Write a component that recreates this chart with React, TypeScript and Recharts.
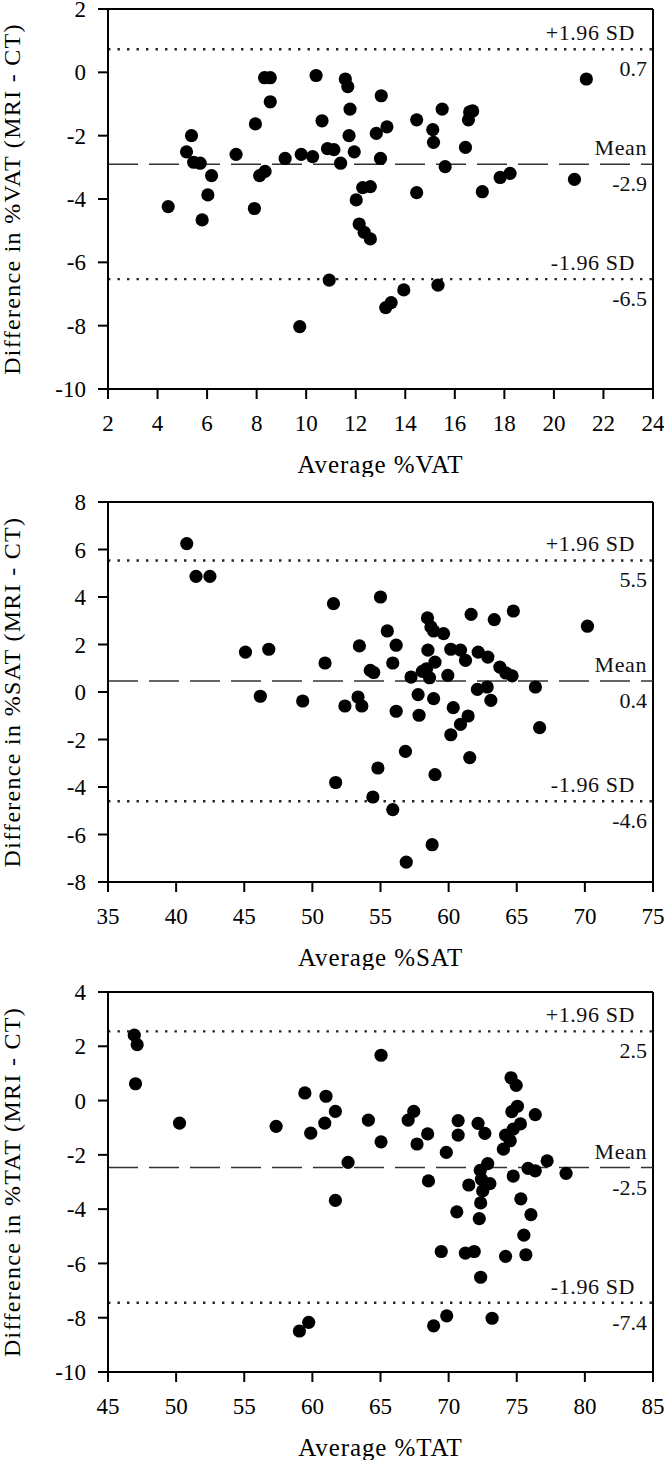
import { ScatterChart, Scatter, XAxis, YAxis, ReferenceLine } from "recharts";

const FONT = "'Liberation Serif', 'Times New Roman', Times, serif";

// Panel 1: visceral adipose tissue
const vatAvg = [
  4.43, 5.17, 5.37, 5.46, 5.72, 6.18, 6.03, 5.8, 7.17, 7.95, 8.12, 8.34, 7.91, 8.32, 8.55,
  8.55, 9.15, 9.8, 10.26, 10.4, 10.64, 10.86, 11.12, 11.39, 11.58, 11.68, 11.77, 11.73,
  11.94, 12.02, 12.14, 12.34, 12.59, 12.28, 12.59, 12.83, 13.03, 13.0, 13.26, 13.21, 13.43,
  13.94, 10.93, 9.74, 14.46, 14.46, 15.11, 15.14, 15.49, 15.61, 15.32, 16.43, 16.55, 16.6,
  16.72, 17.11, 17.83, 18.23, 20.83, 21.31,
];
const vatDiff = [
  -4.24, -2.51, -2.0, -2.84, -2.87, -3.26, -3.87, -4.66, -2.59, -1.63, -3.26, -3.13, -4.3,
  -0.17, -0.17, -0.93, -2.72, -2.59, -2.66, -0.1, -1.53, -2.41, -2.44, -2.87, -0.21, -0.45,
  -1.16, -2.0, -2.51, -4.03, -4.79, -5.05, -5.26, -3.64, -3.61, -1.93, -0.74, -2.72, -1.72,
  -7.43, -7.27, -6.87, -6.56, -8.03, -1.5, -3.8, -1.81, -2.21, -1.16, -2.98, -6.72, -2.37,
  -1.5, -1.25, -1.22, -3.77, -3.32, -3.19, -3.38, -0.21,
];
const vatXTicks = [2, 4, 6, 8, 10, 12, 14, 16, 18, 20, 22, 24];
const vatYTicks = [-10, -8, -6, -4, -2, 0, 2];
const vatLimits = [0.73, -2.9, -6.53];
const vatLimitText = ["0.7", "-2.9", "-6.5"];

// Panel 2: subcutaneous adipose tissue
const satAvg = [
  40.78, 41.46, 42.48, 45.09, 46.8, 46.18, 49.29, 50.93, 51.55, 52.39, 53.35, 53.63, 53.45,
  54.25, 54.5, 55.0, 55.5, 55.9, 56.15, 56.15, 57.24, 57.76, 57.83, 58.07, 58.38, 58.45,
  58.7, 58.9, 58.48, 58.6, 59.0, 58.9, 59.63, 59.94, 60.16, 60.34, 60.87, 61.24, 61.43,
  61.65, 62.17, 62.88, 62.11, 62.83, 63.1, 63.35, 63.76, 64.2, 64.66, 64.75, 66.37, 70.19,
  60.87, 60.16, 66.68, 56.83, 61.55, 54.81, 59.0, 51.71, 54.44, 55.9, 58.79, 56.89,
];
const satDiff = [
  6.25, 4.87, 4.87, 1.68, 1.8, -0.18, -0.38, 1.22, 3.72, -0.59, -0.21, -0.59, 1.94, 0.91,
  0.82, 4.0, 2.57, 1.22, 1.97, -0.81, 0.63, -0.11, -0.98, 0.87, 0.98, 3.12, 2.74, 2.57,
  1.76, 0.6, 1.26, -0.28, 2.46, 0.7, 1.8, -0.66, 1.76, 1.33, -1.01, 3.27, 1.68, 1.47, 0.11,
  0.21, -0.35, 3.05, 1.05, 0.8, 0.68, 3.41, 0.21, 2.77, -1.36, -1.8, -1.5, -2.5, -2.76,
  -3.2, -3.48, -3.81, -4.42, -4.95, -6.43, -7.16,
];
const satXTicks = [35, 40, 45, 50, 55, 60, 65, 70, 75];
const satYTicks = [-8, -6, -4, -2, 0, 2, 4, 6, 8];
const satLimits = [5.54, 0.46, -4.6];
const satLimitText = ["5.5", "0.4", "-4.6"];

// Panel 3: total adipose tissue
const tatAvg = [
  46.93, 47.14, 47.02, 50.25, 57.34, 59.45, 59.88, 61.0, 60.91, 61.69, 62.62, 61.69, 64.11,
  65.04, 65.04, 67.03, 67.44, 67.68, 68.46, 68.52, 69.83, 70.7, 70.7, 70.6, 71.48, 72.16,
  72.66, 72.32, 72.87, 72.41, 72.5, 73.03, 72.35, 72.25, 74.02, 74.18, 74.52, 74.58, 74.96,
  74.64, 75.05, 74.74, 75.27, 74.74, 75.83, 76.36, 76.36, 77.23, 78.62, 75.3, 76.04, 75.52,
  75.67, 74.18, 71.23, 71.88, 69.46, 72.35, 69.86, 68.9, 73.19, 59.05, 59.73,
];
const tatDiff = [
  2.41, 2.06, 0.62, -0.83, -0.95, 0.28, -1.2, 0.16, -0.83, -0.4, -2.28, -3.68, -0.72, 1.67,
  -1.52, -0.72, -0.4, -1.6, -1.23, -2.96, -1.91, -0.74, -1.27, -4.1, -3.11, -0.84, -1.21,
  -2.57, -2.32, -2.9, -3.33, -3.06, -3.77, -4.35, -1.79, -1.27, -1.48, 0.84, 0.56, -0.41,
  -0.21, -1.05, -0.86, -2.78, -2.5, -2.59, -0.52, -2.22, -2.68, -3.62, -4.2, -4.96, -5.68,
  -5.74, -5.62, -5.56, -5.56, -6.51, -7.93, -8.3, -8.02, -8.49, -8.17,
];
const tatXTicks = [45, 50, 55, 60, 65, 70, 75, 80, 85];
const tatYTicks = [-10, -8, -6, -4, -2, 0, 2, 4];
const tatLimits = [2.55, -2.47, -7.45];
const tatLimitText = ["2.5", "-2.5", "-7.4"];

const limitNames = ["+1.96 SD", "Mean", "-1.96 SD"];

function Dot(props: any) {
  const { cx, cy } = props;
  if (cx == null || cy == null) return null;
  return <circle cx={cx} cy={cy} r={6.6} fill="#000" />;
}

function limitLabel(name: string, value: string, nameInset: number) {
  return (props: any) => {
    const vb = props.viewBox || {};
    const right = vb.x + vb.width;
    const y = vb.y;
    return (
      <g fontFamily={FONT} fontSize={22} fill="#111">
        <text x={right - nameInset} y={y - 9} textAnchor="end" letterSpacing={0.6}>
          {name}
        </text>
        <text x={right - 6} y={y + 27} textAnchor="end">
          {value}
        </text>
      </g>
    );
  };
}

interface PanelProps {
  avg: number[];
  diff: number[];
  xTicks: number[];
  yTicks: number[];
  limits: number[];
  limitText: string[];
  xTitle: string;
  yTitle: string;
  plotHeight: number;
  plotTop: number;
  pad: number;
}

function BlandAltman({
  avg,
  diff,
  xTicks,
  yTicks,
  limits,
  limitText,
  xTitle,
  yTitle,
  plotHeight,
  plotTop,
  pad,
}: PanelProps) {
  const data = avg.map((a, i) => ({ x: a, y: diff[i] }));
  const xMin = xTicks[0];
  const xMax = xTicks[xTicks.length - 1];
  const yMin = yTicks[0];
  const yMax = yTicks[yTicks.length - 1];
  const axisStyle = { stroke: "#000", strokeWidth: 2 };
  const tickStyle = { fontFamily: FONT, fontSize: 23, fill: "#000" };

  return (
    <div style={{ position: "absolute", left: 0, top: plotTop - pad }}>
      <ScatterChart
        width={664}
        height={pad + plotHeight + 88}
        margin={{ top: pad, right: 11, bottom: 0, left: 0 }}
      >
        <XAxis
          type="number"
          dataKey="x"
          domain={[xMin, xMax]}
          ticks={xTicks}
          interval={0}
          height={88}
          tickSize={10}
          tickMargin={16}
          axisLine={axisStyle}
          tickLine={axisStyle}
          tick={tickStyle}
          label={(p: any) => {
            const vb = p.viewBox || {};
            return (
              <text
                x={vb.x + vb.width / 2}
                y={vb.y + 84}
                textAnchor="middle"
                fontFamily={FONT}
                fontSize={25}
                letterSpacing={0.9}
                fill="#000"
              >
                {xTitle}
              </text>
            );
          }}
        />
        <YAxis
          type="number"
          dataKey="y"
          domain={[yMin, yMax]}
          ticks={yTicks}
          interval={0}
          width={108}
          tickSize={10}
          tickMargin={12}
          axisLine={axisStyle}
          tickLine={axisStyle}
          tick={tickStyle}
          label={(p: any) => {
            const vb = p.viewBox || {};
            const cx = 19.5;
            const cy = vb.y + vb.height / 2;
            return (
              <text
                x={cx}
                y={cy}
                transform={`rotate(-90, ${cx}, ${cy})`}
                textAnchor="middle"
                fontFamily={FONT}
                fontSize={24}
                letterSpacing={1.3}
                fill="#000"
              >
                {yTitle}
              </text>
            );
          }}
        />
        <ReferenceLine y={yMax} stroke="#000" strokeWidth={2} />
        <ReferenceLine x={xMax} stroke="#000" strokeWidth={2} />
        <ReferenceLine
          y={limits[0]}
          stroke="#222"
          strokeWidth={2.4}
          strokeDasharray="2.4 7.1"
          label={limitLabel(limitNames[0], limitText[0], 18)}
        />
        <ReferenceLine
          y={limits[1]}
          stroke="#333"
          strokeWidth={1.5}
          strokeDasharray="30 11"
          label={limitLabel(limitNames[1], limitText[1], 6)}
        />
        <ReferenceLine
          y={limits[2]}
          stroke="#222"
          strokeWidth={2.4}
          strokeDasharray="2.4 7.1"
          label={limitLabel(limitNames[2], limitText[2], 18)}
        />
        <Scatter data={data} shape={Dot} isAnimationActive={false} />
      </ScatterChart>
    </div>
  );
}

export default function App() {
  return (
    <div style={{ position: "relative", width: 664, height: 1462, background: "#fff" }}>
      <style>{"body{margin:0}"}</style>
      <BlandAltman
        avg={vatAvg}
        diff={vatDiff}
        xTicks={vatXTicks}
        yTicks={vatYTicks}
        limits={vatLimits}
        limitText={vatLimitText}
        xTitle="Average %VAT"
        yTitle="Difference in %VAT (MRI - CT)"
        plotHeight={380}
        plotTop={9}
        pad={9}
      />
      <BlandAltman
        avg={satAvg}
        diff={satDiff}
        xTicks={satXTicks}
        yTicks={satYTicks}
        limits={satLimits}
        limitText={satLimitText}
        xTitle="Average %SAT"
        yTitle="Difference in %SAT (MRI - CT)"
        plotHeight={380}
        plotTop={502}
        pad={20}
      />
      <BlandAltman
        avg={tatAvg}
        diff={tatDiff}
        xTicks={tatXTicks}
        yTicks={tatYTicks}
        limits={tatLimits}
        limitText={tatLimitText}
        xTitle="Average %TAT"
        yTitle="Difference in %TAT (MRI - CT)"
        plotHeight={380}
        plotTop={992}
        pad={20}
      />
    </div>
  );
}
